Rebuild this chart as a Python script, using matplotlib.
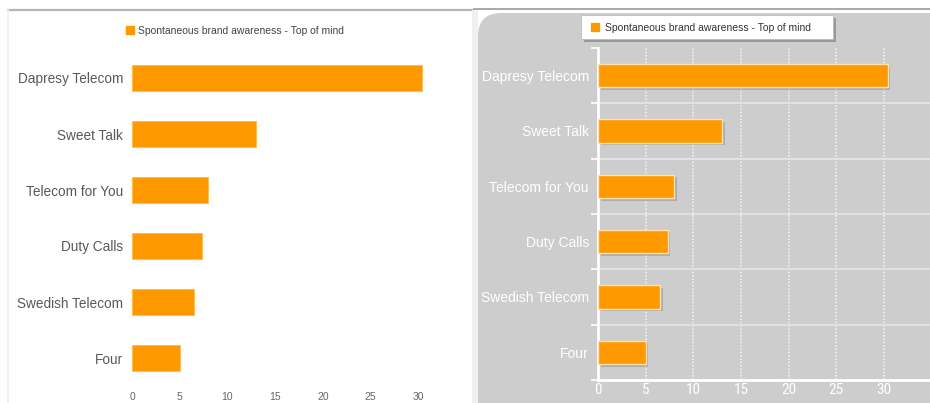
import matplotlib
matplotlib.use("Agg")
import matplotlib.pyplot as plt
import matplotlib.patheffects as pe
from matplotlib.patches import FancyBboxPatch, Rectangle
from matplotlib.lines import Line2D
from matplotlib import font_manager
import numpy as np

categories = ["Dapresy Telecom", "Sweet Talk", "Telecom for You", "Duty Calls", "Swedish Telecom", "Four"]
values = [30.4, 13.0, 8.0, 7.3, 6.5, 5.0]
series_name = "Spontaneous brand awareness - Top of mind"
xticks = [0, 5, 10, 15, 20, 25, 30]

ORANGE = "#ff9900"
W, H = 930, 403
fig = plt.figure(figsize=(W / 100, H / 100), dpi=100)
fig.patch.set_facecolor("white")

def fx(px):
    return px / W

def fy(py):
    return 1 - py / H

installed = {f.name for f in font_manager.fontManager.ttflist}
narrow = [f for f in ["Liberation Sans Narrow", "DejaVu Sans Condensed", "Roboto Condensed"] if f in installed]
narrow_family = (narrow[0] if narrow else "Liberation Sans")
narrow_size = 11 if narrow else 10

# ---------- background decorations ----------
bg = []
bg.append(Line2D([fx(8), fx(474)], [fy(10), fy(10)], color="#b4b4b4", lw=1.6))
bg.append(Line2D([fx(8), fx(8)], [fy(10), fy(403)], color="#efefef", lw=1.2))
bg.append(Line2D([fx(474), fx(930)], [fy(9), fy(9)], color="#a8a8a8", lw=1.4))
bg.append(Rectangle((fx(472), 0), fx(6), fy(10), color="#f0f0f0", lw=0))
bg.append(FancyBboxPatch((fx(478), fy(430)), fx(500), (430 - 13) / H,
                         boxstyle="round,pad=0,rounding_size=0.025",
                         facecolor="#cdcdcd", edgecolor="none",
                         mutation_aspect=W / H))
# right legend box (white with shadow)
box = Rectangle((fx(581), fy(39)), fx(833 - 581), (39 - 15) / H,
                facecolor="white", edgecolor="#bbbbbb", lw=0.6,
                path_effects=[pe.SimplePatchShadow(offset=(2, -2), shadow_rgbFace="#777777", alpha=0.6),
                              pe.Normal()])
bg.append(box)
for a in bg:
    a.set_zorder(-10)
    fig.add_artist(a)

y = np.arange(len(categories))

# ---------- left chart ----------
axL = fig.add_axes([fx(132), fy(386), fx(466 - 132), 336 / H])
axL.barh(y, values, height=0.46, color=ORANGE, edgecolor="#ffb84d", lw=0.6)
axL.set_ylim(len(categories) - 0.5, -0.5)
axL.set_xlim(0, 35)
axL.set_yticks(y)
axL.set_yticklabels(categories, fontsize=9.8, color="#595959", family="Liberation Sans")
axL.set_xticks(xticks)
axL.set_xticklabels([str(t) for t in xticks], fontsize=7.5, color="#666666", family="Liberation Sans")
axL.tick_params(axis="y", length=0, pad=6.5)
axL.tick_params(axis="x", length=0, pad=4)
for s in axL.spines.values():
    s.set_visible(False)
axL.set_facecolor("none")

lgL = fig.legend(handles=[Line2D([], [], marker="s", ls="none", color=ORANGE, markersize=5.5)],
                 labels=[series_name], loc="center", bbox_to_anchor=(fx(234), fy(31)),
                 frameon=False, handletextpad=0.2, handlelength=1.2,
                 prop={"family": "Liberation Sans", "size": 7.5})
lgL.get_texts()[0].set_color("#444444")

# ---------- right chart ----------
axR = fig.add_axes([fx(598), fy(380), fx(930 - 598), 332 / H])
axR.set_facecolor("none")
axR.set_xlim(0, 332 / 9.53)
axR.set_ylim(len(categories) - 0.5, -0.5)
for t in xticks[1:]:
    axR.axvline(t, color="white", lw=1.2, ls=(0, (1, 1)), alpha=0.7, zorder=0)
for b in np.arange(0.5, len(categories) - 0.5, 1.0):
    axR.axhline(b, color="#e6e6e6", lw=1.2, zorder=0)
axR.barh(y, values, height=0.42, color=ORANGE, edgecolor="#ffe2b0", lw=1.0, zorder=3,
         path_effects=[pe.SimplePatchShadow(offset=(2, -2), shadow_rgbFace="#888888", alpha=0.45),
                       pe.Normal()])
axR.set_yticks(y)
axR.set_yticklabels(categories, fontsize=10, color="white", family="Liberation Sans")
axR.set_yticks(np.arange(-0.5, len(categories), 1.0), minor=True)
axR.tick_params(axis="y", which="major", length=0, pad=6.5)
axR.tick_params(axis="y", which="minor", length=5, color="white", width=1.2)
axR.set_xticks(xticks)
axR.set_xticklabels([str(t) for t in xticks], fontsize=narrow_size, color="white",
                    family=narrow_family)
axR.tick_params(axis="x", length=0, pad=2)
for k, s in axR.spines.items():
    if k in ("left", "bottom"):
        s.set_color("white")
        s.set_linewidth(2)
    else:
        s.set_visible(False)

lg = fig.legend(handles=[Line2D([], [], marker="s", ls="none", color=ORANGE, markersize=5.5)],
                labels=[series_name], loc="center left", bbox_to_anchor=(fx(589), fy(28)),
                frameon=False, borderpad=0.0, borderaxespad=0.0,
                handletextpad=0.3, handlelength=1.2,
                prop={"family": "Liberation Sans", "size": 7.5})
lg.get_texts()[0].set_color("#333333")

fig.savefig("out.png", dpi=100)
